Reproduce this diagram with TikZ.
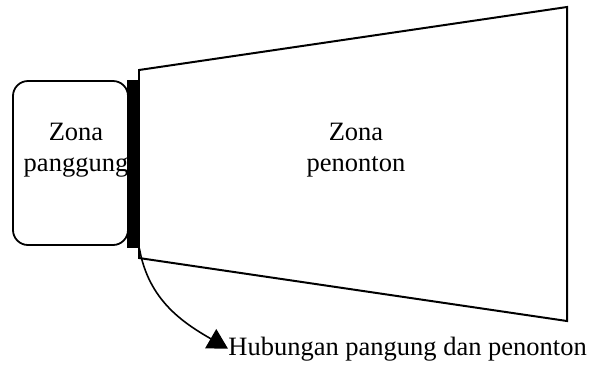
\documentclass[tikz,border=0pt]{standalone}
\usepackage{fontspec}
\setmainfont{Liberation Serif}
\usetikzlibrary{arrows.meta, positioning}
\tikzset{
  zone/.style={
    rectangle, draw, line width=0.9pt,
    rounded corners=7.5bp,
    minimum width=57.5bp, minimum height=82bp
  },
  curtain/.style={
    rectangle, fill=black, inner sep=0pt,
    minimum width=6bp, minimum height=84bp
  },
  zonetext/.style={
    align=center, inner sep=0pt,
    font=\fontsize{13.3}{15.5}\selectfont
  },
  edge line/.style={draw, line width=1pt, line join=miter},
  link/.style={draw, line width=0.8pt, -{Triangle[length=10bp, width=11bp]}},
}
\begin{document}
\begin{tikzpicture}[x=0.5bp, y=-0.5bp]
  \useasboundingbox (0,0) rectangle (598,365);

  % stage and curtain
  \node[zone] (stage) at (70.5,163) {};
  \node[curtain] (bar) at (133,164) {};

  % audience area
  \coordinate (a1) at (139,70);
  \coordinate (a2) at (567,7);
  \coordinate (a3) at (567,321);
  \coordinate (a4) at (139,258);
  \draw[edge line] (a1) -- (a2) -- (a3) -- (a4) -- cycle;

  \node[zonetext] (stagetxt) at (76,150) {Zona\\panggung};
  \node[zonetext] (audtxt) at (356,150) {Zona\\penonton};

  % relation label
  \node[zonetext, anchor=base west] (hub) at (228,355)
    {Hubungan pangung dan penonton};
  \draw[link] (bar.south east) to[out=-80, in=150] (hub.west);
\end{tikzpicture}
\end{document}
